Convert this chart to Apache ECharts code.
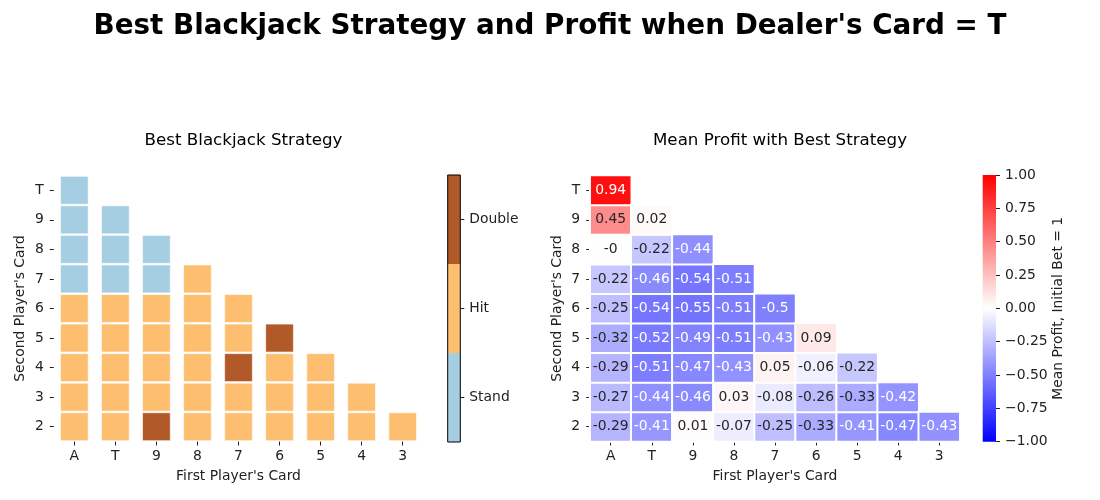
<!DOCTYPE html>
<html>
<head>
  <meta charset="UTF-8" />
  <title>Best Blackjack Strategy</title>
  <script src="https://cdn.jsdelivr.net/npm/echarts@6/dist/echarts.min.js"></script>
  <style>
    body { margin: 0; background: #fff; }
    #chart { width: 1100px; height: 500px; }
  </style>
</head>
<body>
  <div id="chart"></div>
  <script>
    // axes
    const firstCards = ['A', 'T', '9', '8', '7', '6', '5', '4', '3'];
    const secondCards = ['2', '3', '4', '5', '6', '7', '8', '9', 'T'];
    const strategyNames = ['Stand', 'Hit', 'Double'];
    const strategyColors = ['#a6cee3', '#fdbf6f', '#b15928'];

    // best strategy (index into strategyNames), second card from 2 upward
    const strategyA = [1, 1, 1, 1, 1, 0, 0, 0, 0];
    const strategyT = [1, 1, 1, 1, 1, 0, 0, 0];
    const strategy9 = [2, 1, 1, 1, 1, 0, 0];
    const strategy8 = [1, 1, 1, 1, 1, 1];
    const strategy7 = [1, 1, 2, 1, 1];
    const strategy6 = [1, 1, 1, 2];
    const strategy5 = [1, 1, 1];
    const strategy4 = [1, 1];
    const strategy3 = [1];

    // mean profit with best strategy, second card from 2 upward
    const profitA = [-0.29, -0.27, -0.29, -0.32, -0.25, -0.22, -0.004, 0.45, 0.94];
    const profitT = [-0.41, -0.44, -0.51, -0.52, -0.54, -0.46, -0.22, 0.02];
    const profit9 = [0.01, -0.46, -0.47, -0.49, -0.55, -0.54, -0.44];
    const profit8 = [-0.07, 0.03, -0.43, -0.51, -0.51, -0.51];
    const profit7 = [-0.25, -0.08, 0.05, -0.43, -0.5];
    const profit6 = [-0.33, -0.26, -0.06, 0.09];
    const profit5 = [-0.41, -0.33, -0.22];
    const profit4 = [-0.47, -0.42];
    const profit3 = [-0.43];

    const profitTicks = [-1, -0.75, -0.5, -0.25, 0, 0.25, 0.5, 0.75, 1];

    const strategyCols = [strategyA, strategyT, strategy9, strategy8, strategy7, strategy6, strategy5, strategy4, strategy3];
    const profitCols = [profitA, profitT, profit9, profit8, profit7, profit6, profit5, profit4, profit3];

    const strategyData = [];
    strategyCols.forEach((col, i) => col.forEach((v, j) => strategyData.push([i, j, v])));

    function annot(v) {
      const r = Math.round(v * 100) / 100;
      if (r === 0 && v < 0) return '-0';
      return String(r);
    }
    const profitData = [];
    profitCols.forEach((col, i) => col.forEach((v, j) => {
      profitData.push({
        value: [i, j, v],
        label: { color: (v < -0.37 || v > 0.7) ? '#fff' : '#262626' }
      });
    }));

    const chart = echarts.init(document.getElementById('chart'));
    const font = 'DejaVu Sans';
    const fs = 13.9;
    const tickText = { color: '#222', fontFamily: font, fontSize: fs };
    const tick = { show: true, length: 4, lineStyle: { color: '#222' } };

    function catX(idx, name) {
      return {
        type: 'category', gridIndex: idx, data: firstCards,
        axisLine: { show: false }, axisTick: Object.assign({ alignWithLabel: true }, tick),
        axisLabel: Object.assign({ margin: 8 }, tickText),
        splitLine: { show: false },
        name: name, nameLocation: 'middle', nameGap: 28,
        nameTextStyle: { color: '#222', fontFamily: font, fontSize: fs }
      };
    }
    function catY(idx) {
      return {
        type: 'category', gridIndex: idx, data: secondCards,
        axisLine: { show: false }, axisTick: Object.assign({ alignWithLabel: true }, tick),
        axisLabel: Object.assign({ margin: 10 }, tickText),
        splitLine: { show: false },
        name: "Second Player's Card", nameLocation: 'middle', nameGap: 26, nameRotate: 90,
        nameTextStyle: { color: '#222', fontFamily: font, fontSize: fs }
      };
    }
    const hiddenX = idx => ({
      type: 'category', gridIndex: idx, data: [''],
      axisLine: { show: false }, axisTick: { show: false }, axisLabel: { show: false }
    });

    chart.setOption({
      animation: false,
      title: [
        { text: "Best Blackjack Strategy and Profit when Dealer's Card = T", left: 'center', top: 7.5,
          textStyle: { fontFamily: font, fontSize: 27.8, fontWeight: 'bold', color: '#000' } },
        { text: 'Best Blackjack Strategy', left: 238.5, top: 127, textAlign: 'center',
          textStyle: { fontFamily: font, fontSize: 16.7, fontWeight: 'normal', color: '#000' } },
        { text: 'Mean Profit with Best Strategy', left: 775, top: 127, textAlign: 'center',
          textStyle: { fontFamily: font, fontSize: 16.7, fontWeight: 'normal', color: '#000' } }
      ],
      grid: [
        { left: 53.8, top: 175.5, width: 369.4, height: 266 },
        { left: 447.7, top: 175, width: 12.6, height: 267 },
        { left: 590.2, top: 175.5, width: 369.6, height: 266 },
        { left: 982.7, top: 175, width: 13.3, height: 266.7 }
      ],
      xAxis: [
        catX(0, "First Player's Card"),
        hiddenX(1),
        catX(2, "First Player's Card"),
        hiddenX(3)
      ],
      yAxis: [
        catY(0),
        {
          type: 'category', gridIndex: 1, data: strategyNames, position: 'right',
          axisLine: { show: false }, axisTick: Object.assign({ alignWithLabel: true }, tick),
          axisLabel: Object.assign({ margin: 9 }, tickText)
        },
        catY(2),
        {
          type: 'value', gridIndex: 3, min: -1, max: 1, interval: 0.25, position: 'right',
          axisLine: { show: false }, axisTick: tick, splitLine: { show: false },
          axisLabel: Object.assign({
            margin: 9,
            formatter: v => (v < 0 ? '\u2212' : '') + Math.abs(v).toFixed(2)
          }, tickText),
          name: 'Mean Profit, Initial Bet = 1', nameLocation: 'middle', nameGap: 55, nameRotate: 90,
          nameTextStyle: { color: '#222', fontFamily: font, fontSize: fs }
        }
      ],
      visualMap: {
        show: false, type: 'continuous', seriesIndex: 3, dimension: 2,
        min: -1, max: 1, inRange: { color: ['#0000ff', '#ffffff', '#ff0000'] }
      },
      series: [
        {
          type: 'custom', xAxisIndex: 0, yAxisIndex: 0, data: strategyData,
          renderItem: (params, api) => {
            const c = api.coord([api.value(0), api.value(1)]);
            const s = api.size([1, 1]);
            const w = s[0] * 0.675, h = s[1] - 1.6;
            return {
              type: 'rect',
              shape: { x: c[0] - w / 2, y: c[1] - h / 2, width: w, height: h },
              style: { fill: strategyColors[api.value(2)], stroke: '#fff', lineWidth: 0.6 }
            };
          }
        },
        {
          type: 'custom', xAxisIndex: 1, yAxisIndex: 1,
          data: strategyNames.map((n, i) => [0, i]),
          renderItem: (params, api) => {
            const c = api.coord([0, api.value(1)]);
            const s = api.size([1, 1]);
            return {
              type: 'rect',
              shape: { x: c[0] - s[0] / 2, y: c[1] - s[1] / 2, width: s[0], height: s[1] },
              style: { fill: strategyColors[api.value(1)] }
            };
          }
        },
        {
          type: 'custom', xAxisIndex: 1, yAxisIndex: 1, data: [[0, 0]], z: 5,
          renderItem: (params) => {
            const cs = params.coordSys;
            return {
              type: 'rect',
              shape: { x: cs.x, y: cs.y, width: cs.width, height: cs.height },
              style: { fill: 'none', stroke: '#000', lineWidth: 1 }
            };
          }
        },
        {
          type: 'heatmap', xAxisIndex: 2, yAxisIndex: 2, data: profitData,
          itemStyle: { borderColor: '#fff', borderWidth: 2 },
          label: {
            show: true, fontFamily: font, fontSize: fs,
            formatter: p => annot(p.value[2])
          },
          emphasis: { disabled: true }
        },
        {
          type: 'custom', xAxisIndex: 3, yAxisIndex: 3,
          data: [[0, profitTicks[0], profitTicks[profitTicks.length - 1]]],
          renderItem: (params, api) => {
            const top = api.coord([0, api.value(2)]);
            const bot = api.coord([0, api.value(1)]);
            const cs = params.coordSys;
            return {
              type: 'rect',
              shape: { x: cs.x, y: top[1], width: cs.width, height: bot[1] - top[1] },
              style: {
                fill: new echarts.graphic.LinearGradient(0, 0, 0, 1, [
                  { offset: 0, color: '#ff0000' },
                  { offset: 0.5, color: '#ffffff' },
                  { offset: 1, color: '#0000ff' }
                ])
              }
            };
          }
        }
      ]
    });
  </script>
</body>
</html>
